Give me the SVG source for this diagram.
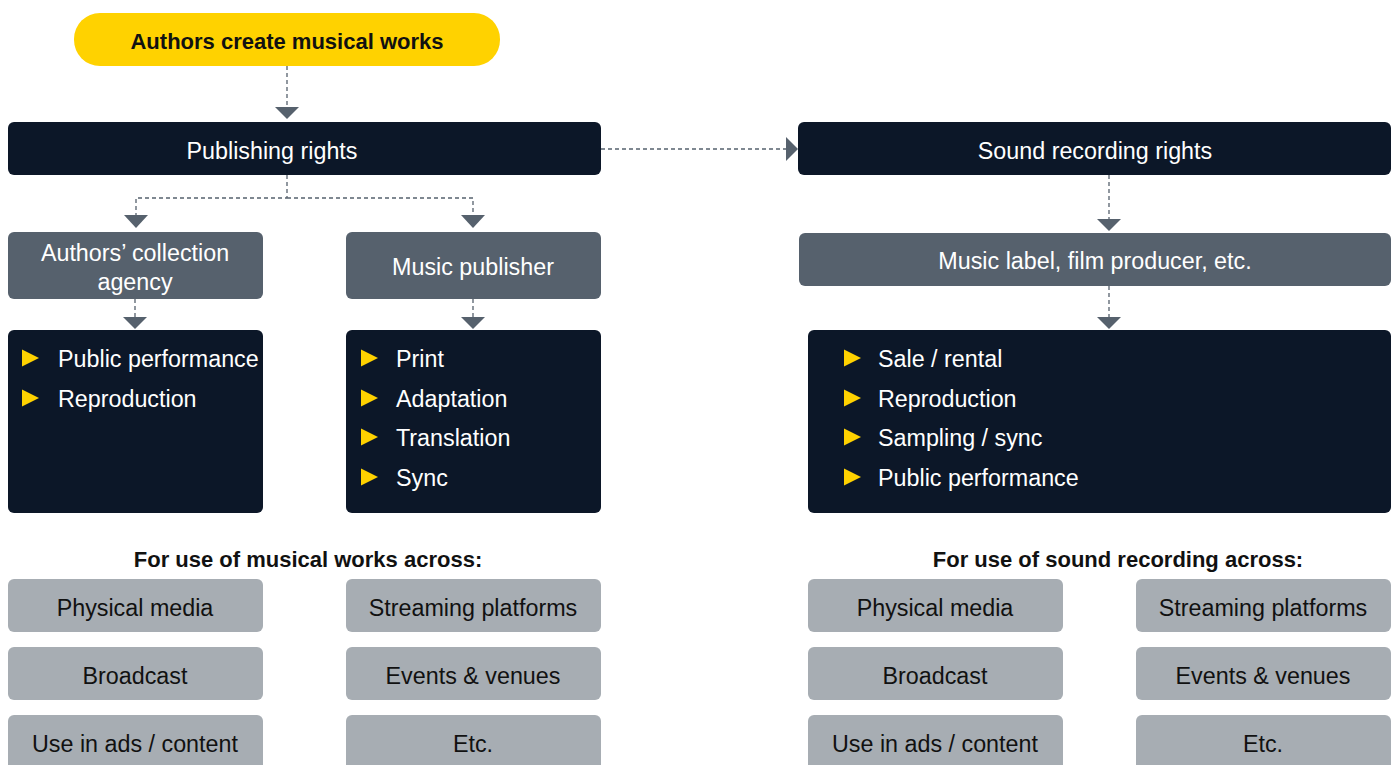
<svg xmlns="http://www.w3.org/2000/svg" width="1397" height="765" viewBox="0 0 1397 765">
<style>
text{font-family:"Liberation Sans",Arial,sans-serif;font-size:23.3px;text-anchor:middle;dominant-baseline:central}
.dark{fill:#0c1728}
.mid{fill:#56616d}
.light{fill:#a7adb3}
.w{fill:#ffffff}
.k{fill:#111111}
.lt{text-anchor:start}
.b{font-weight:bold;font-size:22px}
.bul{fill:#ffd200}
.conn{stroke:#56616d;stroke-width:1.3;stroke-dasharray:4 3;fill:none}
.ah{fill:#56616d}
</style>
<rect width="1397" height="765" fill="#ffffff"/>
<defs>
<path id="bullet" d="M0,-8.5 L17,0 L0,8.5 Z" class="bul"/>
</defs>

<g id="connectors">
<path class="conn" d="M287,66 V107"/>
<path class="ah" d="M275,107 H299 L287,119 Z"/>
<path class="conn" d="M601,149 H786"/>
<path class="ah" d="M786,137 V161 L798,149 Z"/>
<path class="conn" d="M287,175 V198 H136 V215 M287,198 H473 V215"/>
<path class="ah" d="M124,215 H148 L136,228 Z"/>
<path class="ah" d="M461,215 H485 L473,228 Z"/>
<path class="conn" d="M135,299 V317"/>
<path class="ah" d="M123,317 H147 L135,329 Z"/>
<path class="conn" d="M473,299 V317"/>
<path class="ah" d="M461,317 H485 L473,329 Z"/>
<path class="conn" d="M1109,175 V219"/>
<path class="ah" d="M1097,219 H1121 L1109,231 Z"/>
<path class="conn" d="M1109,286 V317"/>
<path class="ah" d="M1097,317 H1121 L1109,329 Z"/>
</g>

<g id="authors">
<rect x="74" y="13" width="426" height="53" rx="26" fill="#ffd200"/>
<text x="287" y="41" class="k b">Authors create musical works</text>
</g>
<g id="publishing-rights">
<rect x="8" y="122" width="593" height="53" rx="6" class="dark"/>
<text x="272" y="151" class="w">Publishing rights</text>
</g>
<g id="sound-recording-rights">
<rect x="798" y="122" width="593" height="53" rx="6" class="dark"/>
<text x="1095" y="151" class="w">Sound recording rights</text>
</g>
<g id="collection-agency">
<rect x="8" y="232" width="255" height="67" rx="6" class="mid"/>
<text x="135" y="253" class="w">Authors’ collection</text>
<text x="135" y="282" class="w">agency</text>
</g>
<g id="music-publisher">
<rect x="346" y="232" width="255" height="67" rx="6" class="mid"/>
<text x="473" y="267" class="w">Music publisher</text>
</g>
<g id="music-label">
<rect x="799" y="233" width="592" height="53" rx="6" class="mid"/>
<text x="1095" y="261" class="w">Music label, film producer, etc.</text>
</g>

<g id="agency-rights">
<rect x="8" y="330" width="255" height="183" rx="6" class="dark"/>
<use href="#bullet" x="22" y="358"/>
<text x="58" y="359" class="w lt">Public performance</text>
<use href="#bullet" x="22" y="398"/>
<text x="58" y="399" class="w lt">Reproduction</text>
</g>
<g id="publisher-rights">
<rect x="346" y="330" width="255" height="183" rx="6" class="dark"/>
<use href="#bullet" x="361" y="358"/>
<text x="396" y="359" class="w lt">Print</text>
<use href="#bullet" x="361" y="398"/>
<text x="396" y="399" class="w lt">Adaptation</text>
<use href="#bullet" x="361" y="437"/>
<text x="396" y="438" class="w lt">Translation</text>
<use href="#bullet" x="361" y="477"/>
<text x="396" y="478" class="w lt">Sync</text>
</g>
<g id="label-rights">
<rect x="808" y="330" width="583" height="183" rx="6" class="dark"/>
<use href="#bullet" x="844" y="358"/>
<text x="878" y="359" class="w lt">Sale / rental</text>
<use href="#bullet" x="844" y="398"/>
<text x="878" y="399" class="w lt">Reproduction</text>
<use href="#bullet" x="844" y="437"/>
<text x="878" y="438" class="w lt">Sampling / sync</text>
<use href="#bullet" x="844" y="477"/>
<text x="878" y="478" class="w lt">Public performance</text>
</g>

<g id="musical-works-uses">
<text x="308" y="559" class="k b">For use of musical works across:</text>
<rect x="8" y="579" width="255" height="53" rx="6" class="light"/>
<text x="135" y="608" class="k">Physical media</text>
<rect x="346" y="579" width="255" height="53" rx="6" class="light"/>
<text x="473" y="608" class="k">Streaming platforms</text>
<rect x="8" y="647" width="255" height="53" rx="6" class="light"/>
<text x="135" y="676" class="k">Broadcast</text>
<rect x="346" y="647" width="255" height="53" rx="6" class="light"/>
<text x="473" y="676" class="k">Events &amp; venues</text>
<rect x="8" y="715" width="255" height="60" rx="6" class="light"/>
<text x="135" y="744" class="k">Use in ads / content</text>
<rect x="346" y="715" width="255" height="60" rx="6" class="light"/>
<text x="473" y="744" class="k">Etc.</text>
</g>
<g id="sound-recording-uses">
<text x="1118" y="559" class="k b">For use of sound recording across:</text>
<rect x="808" y="579" width="255" height="53" rx="6" class="light"/>
<text x="935" y="608" class="k">Physical media</text>
<rect x="1136" y="579" width="255" height="53" rx="6" class="light"/>
<text x="1263" y="608" class="k">Streaming platforms</text>
<rect x="808" y="647" width="255" height="53" rx="6" class="light"/>
<text x="935" y="676" class="k">Broadcast</text>
<rect x="1136" y="647" width="255" height="53" rx="6" class="light"/>
<text x="1263" y="676" class="k">Events &amp; venues</text>
<rect x="808" y="715" width="255" height="60" rx="6" class="light"/>
<text x="935" y="744" class="k">Use in ads / content</text>
<rect x="1136" y="715" width="255" height="60" rx="6" class="light"/>
<text x="1263" y="744" class="k">Etc.</text>
</g>
</svg>
